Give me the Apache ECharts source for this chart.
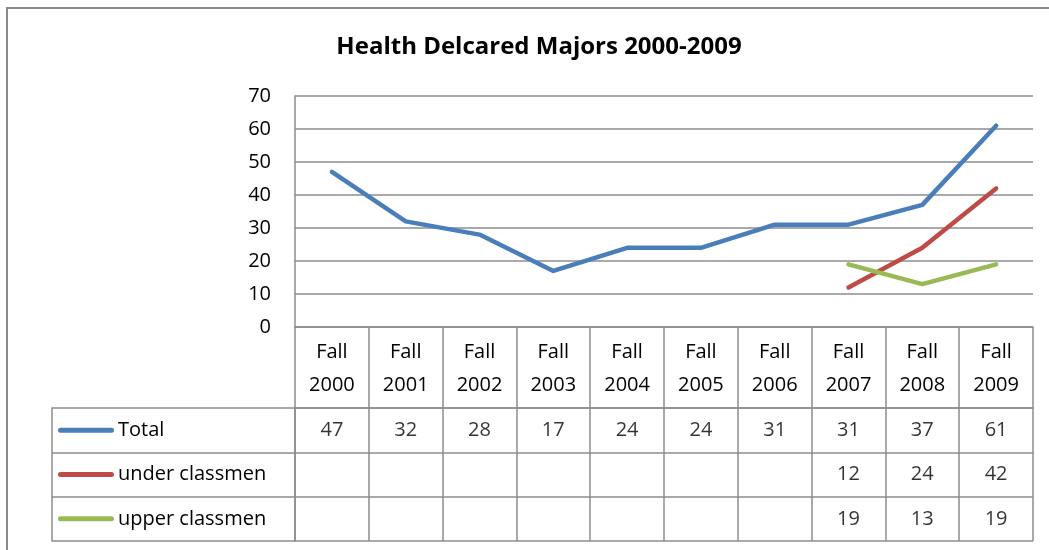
<!DOCTYPE html>
<html>
<head>
<meta charset="utf-8">
<script src="https://cdn.jsdelivr.net/npm/echarts@6/dist/echarts.min.js"></script>
<style>
  html, body { margin: 0; padding: 0; background: #fff; }
  #chart { width: 1049px; height: 550px; }
</style>
</head>
<body>
<div id="chart"></div>
<script>
var categories = ['Fall 2000', 'Fall 2001', 'Fall 2002', 'Fall 2003', 'Fall 2004',
  'Fall 2005', 'Fall 2006', 'Fall 2007', 'Fall 2008', 'Fall 2009'];
var seriesNames = ['Total', 'under classmen', 'upper classmen'];
var total = [47, 32, 28, 17, 24, 24, 31, 31, 37, 61];
var underClassmen = [null, null, null, null, null, null, null, 12, 24, 42];
var upperClassmen = [null, null, null, null, null, null, null, 19, 13, 19];
var colors = ['#4a7ebb', '#be4b48', '#98b954'];

var font = '"Open Sans", sans-serif';
var gridColor = '#8c8c8c';
var allValues = [total, underClassmen, upperClassmen];

// cells of the data table below the plot
var tableCells = [];
allValues.forEach(function (vals, row) {
  vals.forEach(function (v, col) {
    if (v != null) tableCells.push([col, row, v]);
  });
});

var rich = {};
colors.forEach(function (c, i) {
  rich['l' + i] = { backgroundColor: c, width: 56, height: 5, borderRadius: 3 };
});
rich.t = { fontSize: 20, fontFamily: font, color: '#000', padding: [0, 0, 0, 4] };

var chart = echarts.init(document.getElementById('chart'));
chart.setOption({
  animation: false,
  color: colors,
  title: {
    text: 'Health Delcared Majors 2000-2009',
    left: 534, textAlign: 'center', top: 30,
    textStyle: { fontFamily: font, fontSize: 24, fontWeight: 'bold', color: '#000' }
  },
  graphic: [{
    type: 'rect', shape: { x: 7, y: 8, width: 1100, height: 600 },
    style: { fill: 'none', stroke: '#8a8a8a', lineWidth: 2 }, z: -1
  }],
  grid: [
    { left: 295, right: 16, top: 96, height: 231 },
    { left: 295, right: 16, top: 408, height: 133 }
  ],
  xAxis: [{
    gridIndex: 0, type: 'category', data: categories,
    axisLine: { lineStyle: { color: gridColor, width: 1.5 } },
    axisTick: { show: false }, axisLabel: { show: false }
  }, {
    gridIndex: 1, type: 'category', data: categories, position: 'top',
    axisLine: { show: true, lineStyle: { color: gridColor, width: 1.5 } },
    axisTick: { show: true, length: 81, lineStyle: { color: gridColor, width: 1.5 } },
    splitLine: { show: true, lineStyle: { color: gridColor, width: 1.5 } },
    axisLabel: {
      margin: 6, fontFamily: font, fontSize: 20, color: '#000', lineHeight: 33,
      formatter: function (v) { return v.replace(' ', '\n'); }
    }
  }],
  yAxis: [{
    gridIndex: 0, type: 'value', min: 0, max: 70, interval: 10,
    axisLine: { show: true, lineStyle: { color: gridColor, width: 1.5 } },
    splitLine: { lineStyle: { color: gridColor, width: 1.5 } },
    axisLabel: { margin: 24, fontFamily: font, fontSize: 20, color: '#000' }
  }, {
    gridIndex: 1, type: 'category', data: seriesNames, inverse: true,
    axisLine: { show: true, lineStyle: { color: gridColor, width: 1.5 } },
    axisTick: { show: true, length: 243, lineStyle: { color: gridColor, width: 1.5 } },
    splitLine: { show: true, lineStyle: { color: gridColor, width: 1.5 } },
    axisLabel: {
      margin: 237, align: 'left',
      formatter: function (v, i) { return '{l' + i + '|}{t|' + v + '}'; },
      rich: rich
    }
  }, {
    gridIndex: 1, type: 'category', data: seriesNames, inverse: true,
    position: 'left', offset: 243,
    axisLine: { show: true, lineStyle: { color: gridColor, width: 1.5 } },
    axisTick: { show: false }, axisLabel: { show: false }
  }],
  series: [{
    name: seriesNames[0], type: 'line', data: total, symbol: 'none',
    xAxisIndex: 0, yAxisIndex: 0,
    lineStyle: { width: 4.5, cap: 'round', join: 'round' }
  }, {
    name: seriesNames[1], type: 'line', data: underClassmen, symbol: 'none',
    xAxisIndex: 0, yAxisIndex: 0,
    lineStyle: { width: 4.5, cap: 'round', join: 'round' }
  }, {
    name: seriesNames[2], type: 'line', data: upperClassmen, symbol: 'none',
    xAxisIndex: 0, yAxisIndex: 0,
    lineStyle: { width: 4.5, cap: 'round', join: 'round' }
  }, {
    type: 'scatter', data: tableCells, xAxisIndex: 1, yAxisIndex: 1,
    symbolSize: 0, silent: true,
    label: {
      show: true, position: 'inside', fontFamily: font, fontSize: 20, color: '#000',
      formatter: function (p) { return p.value[2]; }
    }
  }]
});
</script>
</body>
</html>
